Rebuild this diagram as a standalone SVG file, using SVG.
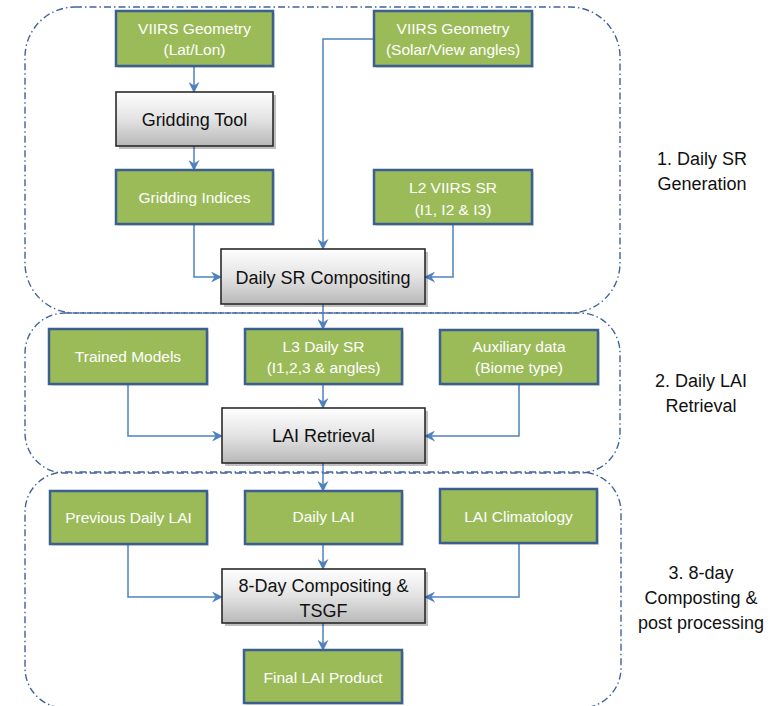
<svg xmlns="http://www.w3.org/2000/svg" width="776" height="706" viewBox="0 0 776 706">
  <defs>
    <linearGradient id="grey" x1="0" y1="0" x2="0" y2="1">
      <stop offset="0" stop-color="#ffffff"/>
      <stop offset="0.5" stop-color="#e3e3e3"/>
      <stop offset="1" stop-color="#b8b8b8"/>
    </linearGradient>
    <marker id="arr" viewBox="0 0 12 12" refX="11" refY="6" markerWidth="11" markerHeight="11" markerUnits="userSpaceOnUse" orient="auto">
      <path d="M0,0 L12,6 L0,12 L4,6 z" fill="#4f81bd"/>
    </marker>
  </defs>
  <style>
    .grp { fill: none; stroke: #41639a; stroke-width: 1.4; stroke-dasharray: 7 3 1.5 3; }
    .gbox { fill: #9bbb59; stroke: #3b5f8f; stroke-width: 2.5; }
    .gshadow { fill: #000000; opacity: 0.12; }
    .gtxt { fill: #ffffff; font-family: "Liberation Sans", Arial, sans-serif; font-size: 15.5px; text-anchor: middle; }
    .pbox { fill: url(#grey); stroke: #2b2b2b; stroke-width: 1.6; }
    .shadow { fill: #000000; opacity: 0.25; }
    .ptxt { fill: #111111; font-family: "Liberation Sans", Arial, sans-serif; font-size: 18px; text-anchor: middle; }
    .lbl { fill: #111111; font-family: "Liberation Sans", Arial, sans-serif; font-size: 18px; text-anchor: middle; }
    .con { fill: none; stroke: #4f81bd; stroke-width: 1.5; }
  </style>

  <g id="groups">
    <rect id="group1" class="grp" x="25" y="7" width="595" height="306" rx="50" ry="50"/>
    <rect id="group2" class="grp" x="25" y="313" width="595" height="160" rx="40" ry="40"/>
    <rect id="group3" class="grp" x="25" y="472" width="596" height="236" rx="40" ry="40"/>
  </g>

  <g id="labels">
    <g id="label1">
      <text class="lbl" x="702" y="165">1. Daily SR</text>
      <text class="lbl" x="702" y="190">Generation</text>
    </g>
    <g id="label2">
      <text class="lbl" x="701" y="387">2. Daily LAI</text>
      <text class="lbl" x="701" y="412">Retrieval</text>
    </g>
    <g id="label3">
      <text class="lbl" x="701" y="579">3. 8-day</text>
      <text class="lbl" x="701" y="604">Composting &amp;</text>
      <text class="lbl" x="701" y="629">post processing</text>
    </g>
  </g>

  <g id="connectors">
    <path class="con" d="M194,66 V92" marker-end="url(#arr)"/>
    <path class="con" d="M194,146 V170" marker-end="url(#arr)"/>
    <path class="con" d="M374,39 H323 V249" marker-end="url(#arr)"/>
    <path class="con" d="M194,224 V277 H221" marker-end="url(#arr)"/>
    <path class="con" d="M453,224 V277 H425" marker-end="url(#arr)"/>
    <path class="con" d="M323,304 V329" marker-end="url(#arr)"/>
    <path class="con" d="M128,384 V436 H222" marker-end="url(#arr)"/>
    <path class="con" d="M323,384 V408" marker-end="url(#arr)"/>
    <path class="con" d="M519,384 V436 H425" marker-end="url(#arr)"/>
    <path class="con" d="M323,463 V491" marker-end="url(#arr)"/>
    <path class="con" d="M128,544 V597 H222" marker-end="url(#arr)"/>
    <path class="con" d="M323,544 V569" marker-end="url(#arr)"/>
    <path class="con" d="M519,543 V597 H425" marker-end="url(#arr)"/>
    <path class="con" d="M323,623 V650" marker-end="url(#arr)"/>
  </g>

  <g id="n_latlon">
    <rect class="gshadow" x="118" y="13" width="157" height="55"/>
    <rect class="gbox" x="116" y="11" width="157" height="55"/>
    <text class="gtxt" x="194.5" y="34">VIIRS Geometry</text>
    <text class="gtxt" x="194.5" y="55">(Lat/Lon)</text>
  </g>
  <g id="n_solar">
    <rect class="gshadow" x="376" y="13" width="158" height="55"/>
    <rect class="gbox" x="374" y="11" width="158" height="55"/>
    <text class="gtxt" x="453" y="34">VIIRS Geometry</text>
    <text class="gtxt" x="453" y="55">(Solar/View angles)</text>
  </g>
  <g id="n_gridtool">
    <rect class="shadow" x="119" y="95" width="157" height="54"/>
    <rect class="pbox" x="116" y="92" width="157" height="54"/>
    <text class="ptxt" x="194.5" y="126">Gridding Tool</text>
  </g>
  <g id="n_gridindices">
    <rect class="gshadow" x="118" y="172" width="157" height="54"/>
    <rect class="gbox" x="116" y="170" width="157" height="54"/>
    <text class="gtxt" x="194.5" y="203">Gridding Indices</text>
  </g>
  <g id="n_l2">
    <rect class="gshadow" x="376" y="172" width="158" height="54"/>
    <rect class="gbox" x="374" y="170" width="158" height="54"/>
    <text class="gtxt" x="453" y="193">L2 VIIRS SR</text>
    <text class="gtxt" x="453" y="215">(I1, I2 &amp; I3)</text>
  </g>
  <g id="n_dailysr">
    <rect class="shadow" x="224" y="252" width="204" height="55"/>
    <rect class="pbox" x="221" y="249" width="204" height="55"/>
    <text class="ptxt" x="323" y="284">Daily SR Compositing</text>
  </g>
  <g id="n_trained">
    <rect class="gshadow" x="51" y="331" width="158" height="55"/>
    <rect class="gbox" x="49" y="329" width="158" height="55"/>
    <text class="gtxt" x="128" y="362">Trained Models</text>
  </g>
  <g id="n_l3">
    <rect class="gshadow" x="247" y="331" width="157" height="55"/>
    <rect class="gbox" x="245" y="329" width="157" height="55"/>
    <text class="gtxt" x="323.5" y="352">L3 Daily SR</text>
    <text class="gtxt" x="323.5" y="373">(I1,2,3 &amp; angles)</text>
  </g>
  <g id="n_aux">
    <rect class="gshadow" x="442" y="332" width="158" height="54"/>
    <rect class="gbox" x="440" y="330" width="158" height="54"/>
    <text class="gtxt" x="519" y="352">Auxiliary data</text>
    <text class="gtxt" x="519" y="373">(Biome type)</text>
  </g>
  <g id="n_lai">
    <rect class="shadow" x="225" y="411" width="203" height="55"/>
    <rect class="pbox" x="222" y="408" width="203" height="55"/>
    <text class="ptxt" x="323.5" y="442">LAI Retrieval</text>
  </g>
  <g id="n_prev">
    <rect class="gshadow" x="52" y="493" width="157" height="53"/>
    <rect class="gbox" x="50" y="491" width="157" height="53"/>
    <text class="gtxt" x="128.5" y="523">Previous Daily LAI</text>
  </g>
  <g id="n_dailylai">
    <rect class="gshadow" x="247" y="493" width="157" height="53"/>
    <rect class="gbox" x="245" y="491" width="157" height="53"/>
    <text class="gtxt" x="323.5" y="522">Daily LAI</text>
  </g>
  <g id="n_clim">
    <rect class="gshadow" x="442" y="491" width="157" height="54"/>
    <rect class="gbox" x="440" y="489" width="157" height="54"/>
    <text class="gtxt" x="518.5" y="522">LAI Climatology</text>
  </g>
  <g id="n_8day">
    <rect class="shadow" x="225" y="572" width="203" height="54"/>
    <rect class="pbox" x="222" y="569" width="203" height="54"/>
    <text class="ptxt" x="323.5" y="592">8-Day Compositing &amp;</text>
    <text class="ptxt" x="323.5" y="617">TSGF</text>
  </g>
  <g id="n_final">
    <rect class="gshadow" x="246" y="652" width="158" height="53"/>
    <rect class="gbox" x="244" y="650" width="158" height="53"/>
    <text class="gtxt" x="323" y="683">Final LAI Product</text>
  </g>
</svg>
